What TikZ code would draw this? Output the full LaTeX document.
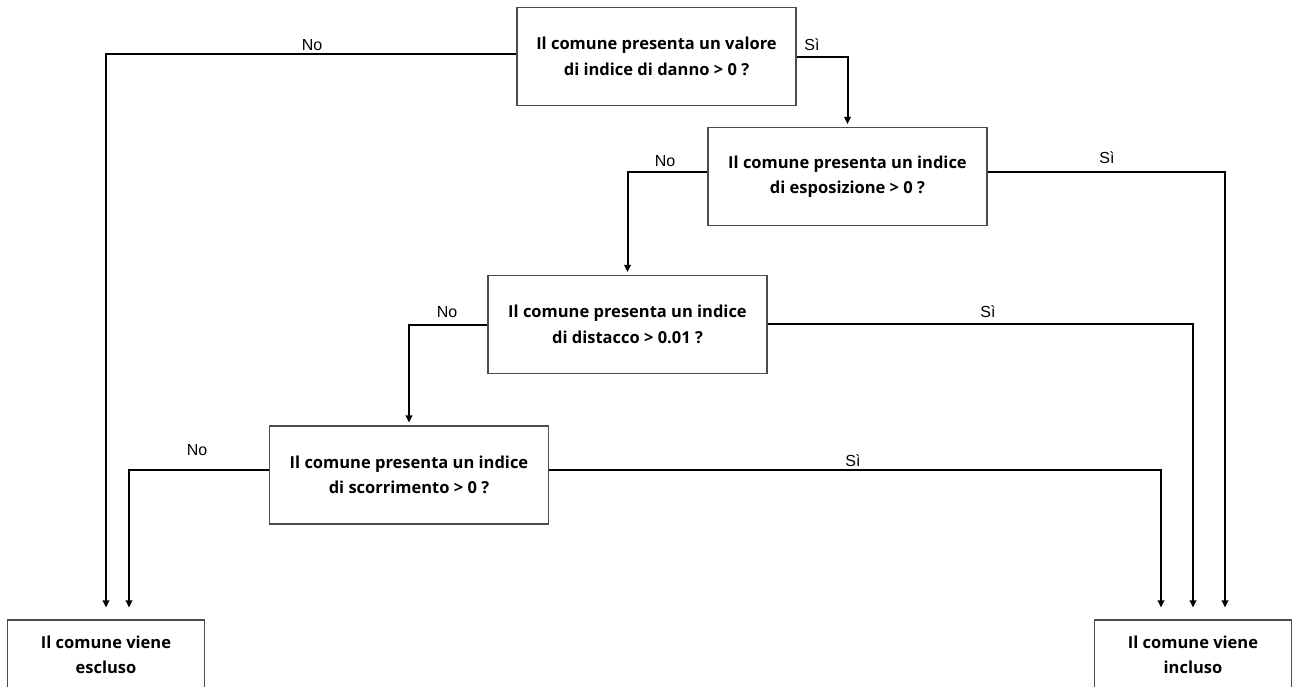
\documentclass[tikz,border=0pt]{standalone}
\usepackage{fontspec}
\setmainfont{Open Sans}
\newfontfamily\labfont{Liberation Sans}
\usetikzlibrary{arrows.meta}
\begin{document}
\begin{tikzpicture}[x=1pt,y=-1pt,
  box/.style={draw=black!70, line width=1.1pt, minimum width=279pt, minimum height=98pt,
    align=center, inner sep=0pt, font=\bfseries\fontsize{16.5}{25.5}\selectfont},
  endbox/.style={box, minimum width=197pt, minimum height=70pt},
  conn/.style={line width=2pt, -{Triangle[length=7pt,width=6.5pt]}},
  near/.style={shorten >=3pt},
  far/.style={shorten >=12pt},
  lab/.style={font=\labfont\fontsize{16}{18}\selectfont, inner sep=0pt}]
\useasboundingbox (0,0) rectangle (1293,687);

\node[box] (b1) at (656.5,56.5) {Il comune presenta un valore\\di indice di danno > 0 ?};
\node[box] (b2) at (847.5,176.5) {Il comune presenta un indice\\di esposizione > 0 ?};
\node[box] (b3) at (627.5,324.5) {Il comune presenta un indice\\di distacco > 0.01 ?};
\node[box] (b4) at (409,475) {Il comune presenta un indice\\di scorrimento > 0 ?};
\node[endbox] (ex) at (106,655) {Il comune viene\\escluso};
\node[endbox] (in) at (1193,655) {Il comune viene\\incluso};

% No branches
\draw[conn,far] ([yshift=2pt]b1.west) -| (ex.north);
\draw[conn,near] ([yshift=4.5pt]b2.west) -| (b3.north);
\draw[conn,near] (b3.west) -| (b4.north);
\draw[conn,far] ([yshift=5pt]b4.west) -| ([xshift=23pt]ex.north);

% Si branches
\draw[conn,near] ([yshift=-0.5pt]b1.east) -| (b2.north);
\draw[conn,far] ([yshift=4.5pt]b2.east) -| ([xshift=32pt]in.north);
\draw[conn,far] ([yshift=1pt]b3.east) -| (in.north);
\draw[conn,far] ([yshift=5pt]b4.east) -| ([xshift=-32pt]in.north);

% labels
\node[lab] (n1) at (312,45) {No};
\node[lab] (s1) at (812,45) {Sì};
\node[lab] (n2) at (665,161) {No};
\node[lab] (s2) at (1107,158) {Sì};
\node[lab] (n3) at (447,312) {No};
\node[lab] (s3) at (988,312) {Sì};
\node[lab] (n4) at (197,450) {No};
\node[lab] (s4) at (853,461) {Sì};
\end{tikzpicture}
\end{document}
